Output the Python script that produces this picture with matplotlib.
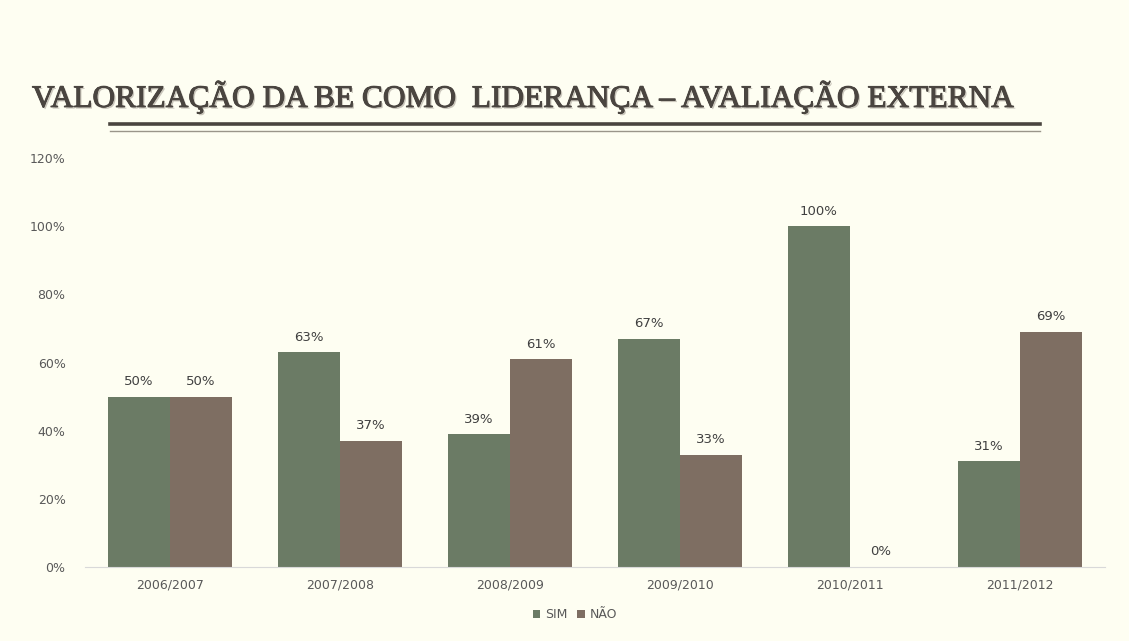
import matplotlib
matplotlib.use("Agg")
import matplotlib.pyplot as plt
import matplotlib.patheffects as pe
import numpy as np
from matplotlib.lines import Line2D

categories = ["2006/2007", "2007/2008", "2008/2009", "2009/2010", "2010/2011", "2011/2012"]
sim = [50, 63, 39, 67, 100, 31]
nao = [50, 37, 61, 33, 0, 69]
series_names = ["SIM", "NÃO"]
title = "VALORIZAÇÃO DA BE COMO  LIDERANÇA – AVALIAÇÃO EXTERNA"

bg = "#FEFEF2"
c_sim = "#6B7B65"
c_nao = "#7E6E62"

fig = plt.figure(figsize=(11.29, 6.41), dpi=100, facecolor=bg)
W, H = 1129, 641
ax = fig.add_axes([85 / W, 1 - 567 / H, (1105 - 85) / W, (567 - 158) / H], facecolor=bg)

x = np.arange(len(categories))
bw = 0.365
b1 = ax.bar(x - bw / 2, sim, bw, color=c_sim, label=series_names[0])
b2 = ax.bar(x + bw / 2, nao, bw, color=c_nao, label=series_names[1])
for bars, vals in ((b1, sim), (b2, nao)):
    for r, v in zip(bars, vals):
        ax.text(r.get_x() + r.get_width() / 2, v + 2.5, f"{v}%", ha="center", va="bottom",
                fontsize=9.5, color="#404040")

ax.set_xlim(-0.5, len(categories) - 0.5)
ax.set_ylim(0, 120)
ax.set_yticks(range(0, 121, 20))
ax.set_yticklabels([f"{v}%" for v in range(0, 121, 20)])
ax.set_xticks(x)
ax.set_xticklabels(categories)
ax.tick_params(axis="both", length=0, labelsize=9, colors="#595959")
ax.tick_params(axis="y", pad=14)
ax.tick_params(axis="x", pad=8)
for s in ["top", "right", "left"]:
    ax.spines[s].set_visible(False)
ax.spines["bottom"].set_color("#D9D9D9")

leg = fig.legend(handles=[b1, b2], labels=series_names, loc="center", bbox_to_anchor=(575 / W, 1 - 615 / H),
                 ncol=2, frameon=False, fontsize=9, handlelength=0.6, handleheight=0.6,
                 handletextpad=0.4, columnspacing=0.8, labelcolor="#595959")

fig.text(32 / W, 1 - 97 / H, title, fontsize=22.6, family="Liberation Serif", color="#4A4540",
         ha="left", va="center",
         path_effects=[pe.withSimplePatchShadow(offset=(1.2, -1.2), shadow_rgbFace="#BDB8AE", alpha=0.8),
                       pe.withStroke(linewidth=0.7, foreground="#4A4540")])
fig.add_artist(Line2D([110 / W, 1040 / W], [1 - 123.5 / H] * 2, color="#4A4540", lw=2.6))
fig.add_artist(Line2D([110 / W, 1040 / W], [1 - 131 / H] * 2, color="#9A958A", lw=1.0))

fig.savefig("out.png", dpi=100, facecolor=bg)
